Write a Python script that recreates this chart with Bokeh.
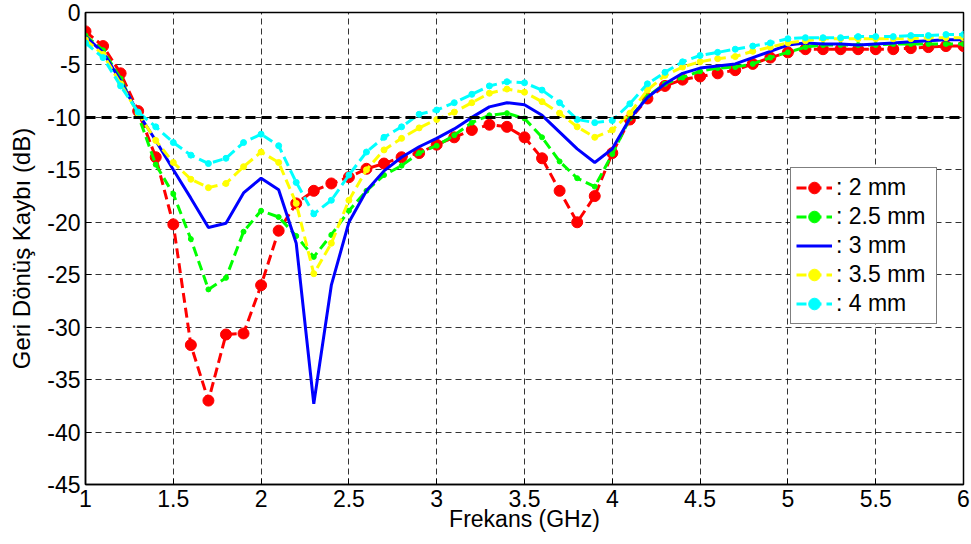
from bokeh.plotting import figure
from bokeh.models import Span, Legend, LegendItem, FixedTicker, Range1d
from bokeh.embed import file_html
from bokeh.resources import INLINE

freq = [1.0, 1.1, 1.2, 1.3, 1.4, 1.5, 1.6, 1.7, 1.8, 1.9, 2.0,
        2.1, 2.2, 2.3, 2.4, 2.5, 2.6, 2.7, 2.8, 2.9, 3.0,
        3.1, 3.2, 3.3, 3.4, 3.5, 3.6, 3.7, 3.8, 3.9, 4.0,
        4.1, 4.2, 4.3, 4.4, 4.5, 4.6, 4.7, 4.8, 4.9, 5.0,
        5.1, 5.2, 5.3, 5.4, 5.5, 5.6, 5.7, 5.8, 5.9, 6.0]

s_2mm = [-1.8, -3.2, -5.8, -9.4, -13.8, -20.2, -31.7, -37.0, -30.7, -30.6, -26.0,
         -20.8, -18.2, -17.0, -16.3, -15.7, -14.9, -14.4, -13.8, -13.4, -12.6,
         -11.9, -11.2, -10.7, -10.9, -11.9, -13.9, -17.0, -20.0, -17.5, -13.4,
         -10.2, -8.2, -7.0, -6.4, -6.1, -5.8, -5.5, -4.9, -4.3, -3.8,
         -3.5, -3.5, -3.5, -3.5, -3.5, -3.5, -3.4, -3.3, -3.2, -3.2]

s_2_5mm = [-2.2, -3.6, -6.3, -9.8, -14.5, -17.3, -21.6, -26.4, -25.3, -20.9, -18.9,
           -19.5, -21.3, -23.3, -21.2, -18.9, -17.0, -15.5, -14.6, -13.4, -12.7,
           -11.7, -10.5, -9.8, -9.6, -10.1, -11.9, -14.2, -15.8, -16.6, -13.5,
           -10.1, -8.0, -6.8, -6.2, -5.6, -5.3, -5.2, -4.9, -4.3, -3.8,
           -3.3, -3.1, -3.1, -3.1, -3.1, -3.0, -3.0, -3.0, -3.0, -3.0]

s_3mm = [-2.3, -3.8, -6.5, -9.6, -12.2, -15.0, -17.7, -20.5, -20.1, -17.2, -15.8,
         -16.9, -22.0, -37.3, -26.0, -20.0, -17.0, -15.1, -13.8, -12.8, -12.0,
         -11.1, -10.0, -9.0, -8.6, -8.8, -9.8, -11.4, -13.0, -14.3, -13.0,
         -10.1, -8.1, -6.8, -5.8, -5.3, -5.1, -4.9, -4.3, -3.7, -3.1,
         -2.9, -3.0, -3.0, -3.1, -3.0, -2.9, -2.8, -2.7, -2.6, -2.6]

s_3_5mm = [-2.6, -4.0, -6.8, -9.6, -12.2, -14.3, -15.9, -16.7, -16.3, -14.7, -13.3,
           -14.3, -18.2, -24.9, -22.0, -17.9, -15.0, -13.1, -12.0, -11.0, -10.2,
           -9.5, -8.6, -7.7, -7.3, -7.6, -8.5, -9.6, -10.9, -11.9, -11.2,
           -9.6, -7.4, -6.0, -5.2, -4.7, -4.4, -4.2, -3.7, -3.3, -2.9,
           -2.7, -2.5, -2.5, -2.5, -2.5, -2.5, -2.5, -2.4, -2.4, -2.4]

s_4mm = [-2.9, -4.3, -7.0, -9.5, -10.9, -12.4, -13.6, -14.4, -13.9, -12.4, -11.6,
         -12.7, -16.2, -19.2, -17.9, -15.5, -13.3, -11.9, -10.9, -9.7, -9.3,
         -8.6, -7.8, -7.0, -6.6, -6.7, -7.4, -8.6, -10.2, -10.5, -10.3,
         -8.7, -6.8, -5.7, -4.7, -4.1, -3.8, -3.5, -3.2, -2.9, -2.5,
         -2.4, -2.4, -2.4, -2.3, -2.3, -2.3, -2.2, -2.2, -2.1, -2.1]

series_labels = [": 2 mm", ": 2.5 mm", ": 3 mm", ": 3.5 mm", ": 4 mm"]
threshold = -10

x_ticks = [1, 1.5, 2, 2.5, 3, 3.5, 4, 4.5, 5, 5.5, 6]
x_tick_labels = ["1", "1.5", "2", "2.5", "3", "3.5", "4", "4.5", "5", "5.5", "6"]
y_ticks = [-45, -40, -35, -30, -25, -20, -15, -10, -5, 0]
y_tick_labels = ["-45", "-40", "-35", "-30", "-25", "-20", "-15", "-10", "-5", "0"]

FONT = "Liberation Sans"

p = figure(width=971, height=544, x_range=Range1d(1, 6), y_range=Range1d(-45, 0),
           output_backend="svg", toolbar_location=None,
           min_border_left=85, min_border_right=8, min_border_top=12, min_border_bottom=60,
           background_fill_color="white", border_fill_color="white")

p.outline_line_color = "black"
p.outline_line_width = 1.5

for ax in (p.xaxis, p.yaxis):
    ax.major_label_text_font = FONT
    ax.major_label_text_font_size = "23px"
    ax.major_label_text_color = "black"
    ax.axis_label_text_font = FONT
    ax.axis_label_text_font_style = "normal"
    ax.axis_label_text_color = "black"
    ax.major_tick_in = 6
    ax.major_tick_out = 0
    ax.minor_tick_in = 0
    ax.minor_tick_out = 0
    ax.major_tick_line_color = "black"
    ax.axis_line_color = "black"
    ax.axis_line_width = 1.5

p.xaxis.ticker = FixedTicker(ticks=x_ticks)
p.xaxis.major_label_overrides = dict(zip(x_ticks, x_tick_labels))
p.yaxis.ticker = FixedTicker(ticks=y_ticks)
p.yaxis.major_label_overrides = dict(zip(y_ticks, y_tick_labels))
p.xaxis.axis_label = "Frekans (GHz)"
p.yaxis.axis_label = "Geri Dönüş Kaybı (dB)"
p.xaxis.axis_label_text_font_size = "23px"
p.yaxis.axis_label_text_font_size = "24px"
p.xaxis.major_label_standoff = 5
p.yaxis.major_label_standoff = 5
p.xaxis.axis_label_standoff = -4
p.yaxis.axis_label_standoff = 9

for g in (p.xgrid, p.ygrid):
    g.grid_line_color = "black"
    g.grid_line_alpha = 0.8
    g.grid_line_dash = "6 4"
    g.grid_line_width = 1

items = []
# 2 mm
l1 = p.line(freq, s_2mm, line_color="#FF0000", line_width=3, line_dash="10 5")
m1 = p.scatter(freq, s_2mm, marker="circle", size=11, fill_color="#FF0000", line_color="#FF0000")
items.append(LegendItem(label=series_labels[0], renderers=[l1, m1]))
# 2.5 mm
l2 = p.line(freq, s_2_5mm, line_color="#00FF00", line_width=3, line_dash="10 5")
m2 = p.scatter(freq, s_2_5mm, marker="circle", size=5, fill_color="#00FF00", line_color="#00FF00")
items.append(LegendItem(label=series_labels[1], renderers=[l2, m2]))
# 3 mm
l3 = p.line(freq, s_3mm, line_color="#0000FF", line_width=3)
items.append(LegendItem(label=series_labels[2], renderers=[l3]))
# 3.5 mm
l4 = p.line(freq, s_3_5mm, line_color="#FFFF00", line_width=3, line_dash="10 5")
m4 = p.scatter(freq, s_3_5mm, marker="circle", size=6, fill_color="#FFFF00", line_color="#FFFF00")
items.append(LegendItem(label=series_labels[3], renderers=[l4, m4]))
# 4 mm
l5 = p.line(freq, s_4mm, line_color="#00FFFF", line_width=3, line_dash="10 5")
m5 = p.scatter(freq, s_4mm, marker="circle", size=6, fill_color="#00FFFF", line_color="#00FFFF")
items.append(LegendItem(label=series_labels[4], renderers=[l5, m5]))

span = Span(location=threshold, dimension="width", line_color="black", line_width=3, line_dash="10 6")
p.add_layout(span)

legend = Legend(items=items, location=(705, 160))
legend.label_text_font = FONT
legend.label_text_font_size = "23px"
legend.label_text_color = "black"
legend.padding = 5
legend.spacing = 0
legend.margin = 0
legend.label_height = 29
legend.glyph_height = 29
legend.glyph_width = 36
legend.label_standoff = 4
legend.label_width = 95
legend.border_line_color = "black"
legend.border_line_width = 1.5
legend.background_fill_color = "white"
legend.background_fill_alpha = 1.0
p.add_layout(legend)

open("out.html", "w").write(file_html(p, INLINE))
